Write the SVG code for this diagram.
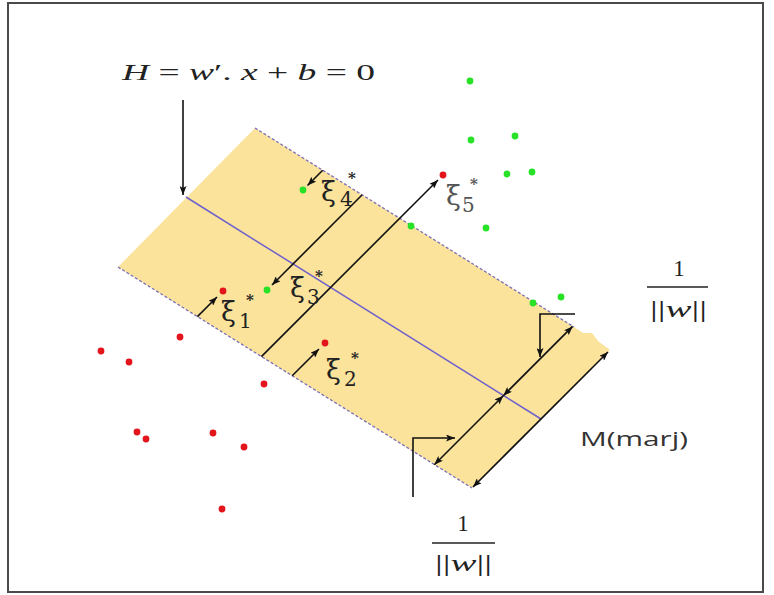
<svg xmlns="http://www.w3.org/2000/svg" width="774" height="595" viewBox="0 0 774 595">
<style>
.mth{font-family:"Liberation Serif","DejaVu Serif",serif;fill:#222}
.it{font-style:italic}
.xi{font-family:"DejaVu Serif","Liberation Serif",serif;fill:#222}
.xb{font-size:27px}
.xs{font-size:20px}
.xt{font-size:15px;font-weight:bold}
.red{fill:#e3141b}
.grn{fill:#27e227}
.edge{stroke:#7b70b8;stroke-width:1.3;stroke-dasharray:3 2;fill:none}
.blk{stroke:#111;stroke-width:1.6;fill:none}
</style>
<defs>
<marker id="ah" markerUnits="userSpaceOnUse" markerWidth="10" markerHeight="7" refX="9" refY="3.5" orient="auto-start-reverse">
<path d="M0,0 L9,3.5 L0,7 L2,3.5 z" fill="#111"/>
</marker>
</defs>
<rect x="8" y="3" width="755" height="589" fill="#fff" stroke="#4a4a4a" stroke-width="2"/>

<g id="band">
<polygon points="255,128 574,327 583,333 592,333 598,341 610,350 472,488 118,267" fill="#fbe39b"/>
<line class="edge" x1="255" y1="128" x2="574" y2="327"/>
<line class="edge" x1="118" y1="267" x2="472" y2="488"/>
<line x1="186" y1="197" x2="541" y2="419" stroke="#6d60cc" stroke-width="1.5"/>
</g>

<g id="points">
<circle class="grn" cx="470" cy="81" r="3.4"/>
<circle class="grn" cx="471" cy="140" r="3.4"/>
<circle class="grn" cx="515" cy="136" r="3.4"/>
<circle class="grn" cx="507" cy="174" r="3.4"/>
<circle class="grn" cx="532" cy="172" r="3.4"/>
<circle class="grn" cx="486" cy="228" r="3.4"/>
<circle class="grn" cx="411" cy="226" r="3.4"/>
<circle class="grn" cx="533" cy="303" r="3.4"/>
<circle class="grn" cx="561" cy="297" r="3.4"/>
<circle class="grn" cx="303" cy="190" r="3.4"/>
<circle class="grn" cx="267" cy="290" r="3.4"/>
<circle class="red" cx="443" cy="175" r="3.4"/>
<circle class="red" cx="223" cy="291" r="3.4"/>
<circle class="red" cx="325" cy="343" r="3.4"/>
<circle class="red" cx="180" cy="337" r="3.4"/>
<circle class="red" cx="101" cy="351" r="3.4"/>
<circle class="red" cx="129" cy="362" r="3.4"/>
<circle class="red" cx="264" cy="384" r="3.4"/>
<circle class="red" cx="137" cy="432" r="3.4"/>
<circle class="red" cx="146" cy="439" r="3.4"/>
<circle class="red" cx="213" cy="433" r="3.4"/>
<circle class="red" cx="244" cy="447" r="3.4"/>
<circle class="red" cx="222" cy="509" r="3.4"/>
</g>

<g id="connectors">
<line class="blk" x1="183" y1="100" x2="183" y2="195" marker-end="url(#ah)"/>
<line class="blk" x1="197.4" y1="316.6" x2="217" y2="297" marker-end="url(#ah)"/>
<line class="blk" x1="292.2" y1="375.8" x2="319" y2="349" marker-end="url(#ah)"/>
<line class="blk" x1="362" y1="195" x2="272" y2="285" marker-end="url(#ah)"/>
<line class="blk" x1="322.7" y1="170.3" x2="307.5" y2="185.5" marker-end="url(#ah)"/>
<line class="blk" x1="261.4" y1="356.6" x2="438" y2="180" marker-end="url(#ah)"/>
<line class="blk" x1="608" y1="352" x2="473" y2="487" marker-start="url(#ah)" marker-end="url(#ah)"/>
<line class="blk" x1="572.6" y1="326.4" x2="503.3" y2="395.7" marker-start="url(#ah)" marker-end="url(#ah)"/>
<line class="blk" x1="503.3" y1="395.7" x2="434.3" y2="464.7" marker-start="url(#ah)" marker-end="url(#ah)"/>
<polyline class="blk" points="575,314 540,314 540,357" marker-end="url(#ah)"/>
<polyline class="blk" points="413,497 413,438 455,438" marker-end="url(#ah)"/>
</g>

<g id="label-H">
<text class="mth" x="122" y="80" font-size="24" textLength="253" lengthAdjust="spacingAndGlyphs"><tspan class="it">H</tspan> = <tspan class="it">w</tspan>′. <tspan class="it">x</tspan> + <tspan class="it">b</tspan> = 0</text>
</g>

<g id="xi1"><text class="xi"><tspan class="xb" x="221" y="321">ξ</tspan><tspan class="xs" x="239" y="328">1</tspan><tspan class="xt" x="246" y="305">*</tspan></text></g>
<g id="xi2"><text class="xi"><tspan class="xb" x="326" y="379">ξ</tspan><tspan class="xs" x="344" y="386">2</tspan><tspan class="xt" x="351" y="363">*</tspan></text></g>
<g id="xi3"><text class="xi"><tspan class="xb" x="290" y="297">ξ</tspan><tspan class="xs" x="307" y="304">3</tspan><tspan class="xt" x="315" y="281">*</tspan></text></g>
<g id="xi4"><text class="xi"><tspan class="xb" x="321" y="201">ξ</tspan><tspan class="xs" x="340" y="206">4</tspan><tspan class="xt" x="348" y="183">*</tspan></text></g>
<g id="xi5"><text class="xi" style="fill:#555"><tspan class="xb" x="446" y="205">ξ</tspan><tspan class="xs" x="462" y="212">5</tspan><tspan class="xt" x="470" y="189">*</tspan></text></g>

<g id="label-w-top">
<text class="mth" x="679" y="276" font-size="23" text-anchor="middle">1</text>
<line x1="647" y1="287" x2="708" y2="287" stroke="#222" stroke-width="1.4"/>
<text class="mth" x="650" y="317" font-size="24" textLength="57" lengthAdjust="spacingAndGlyphs">||<tspan class="it">w</tspan>||</text>
</g>

<g id="label-w-bottom">
<text class="mth" x="463" y="531" font-size="23" text-anchor="middle">1</text>
<line x1="432" y1="543" x2="495" y2="543" stroke="#222" stroke-width="1.4"/>
<text class="mth" x="435" y="571" font-size="24" textLength="57" lengthAdjust="spacingAndGlyphs">||<tspan class="it">w</tspan>||</text>
</g>

<g id="label-M">
<text x="580" y="446" font-family="'Open Sans', 'Liberation Sans', sans-serif" font-size="20" fill="#333" textLength="108" lengthAdjust="spacingAndGlyphs">M(marj)</text>
</g>
</svg>
